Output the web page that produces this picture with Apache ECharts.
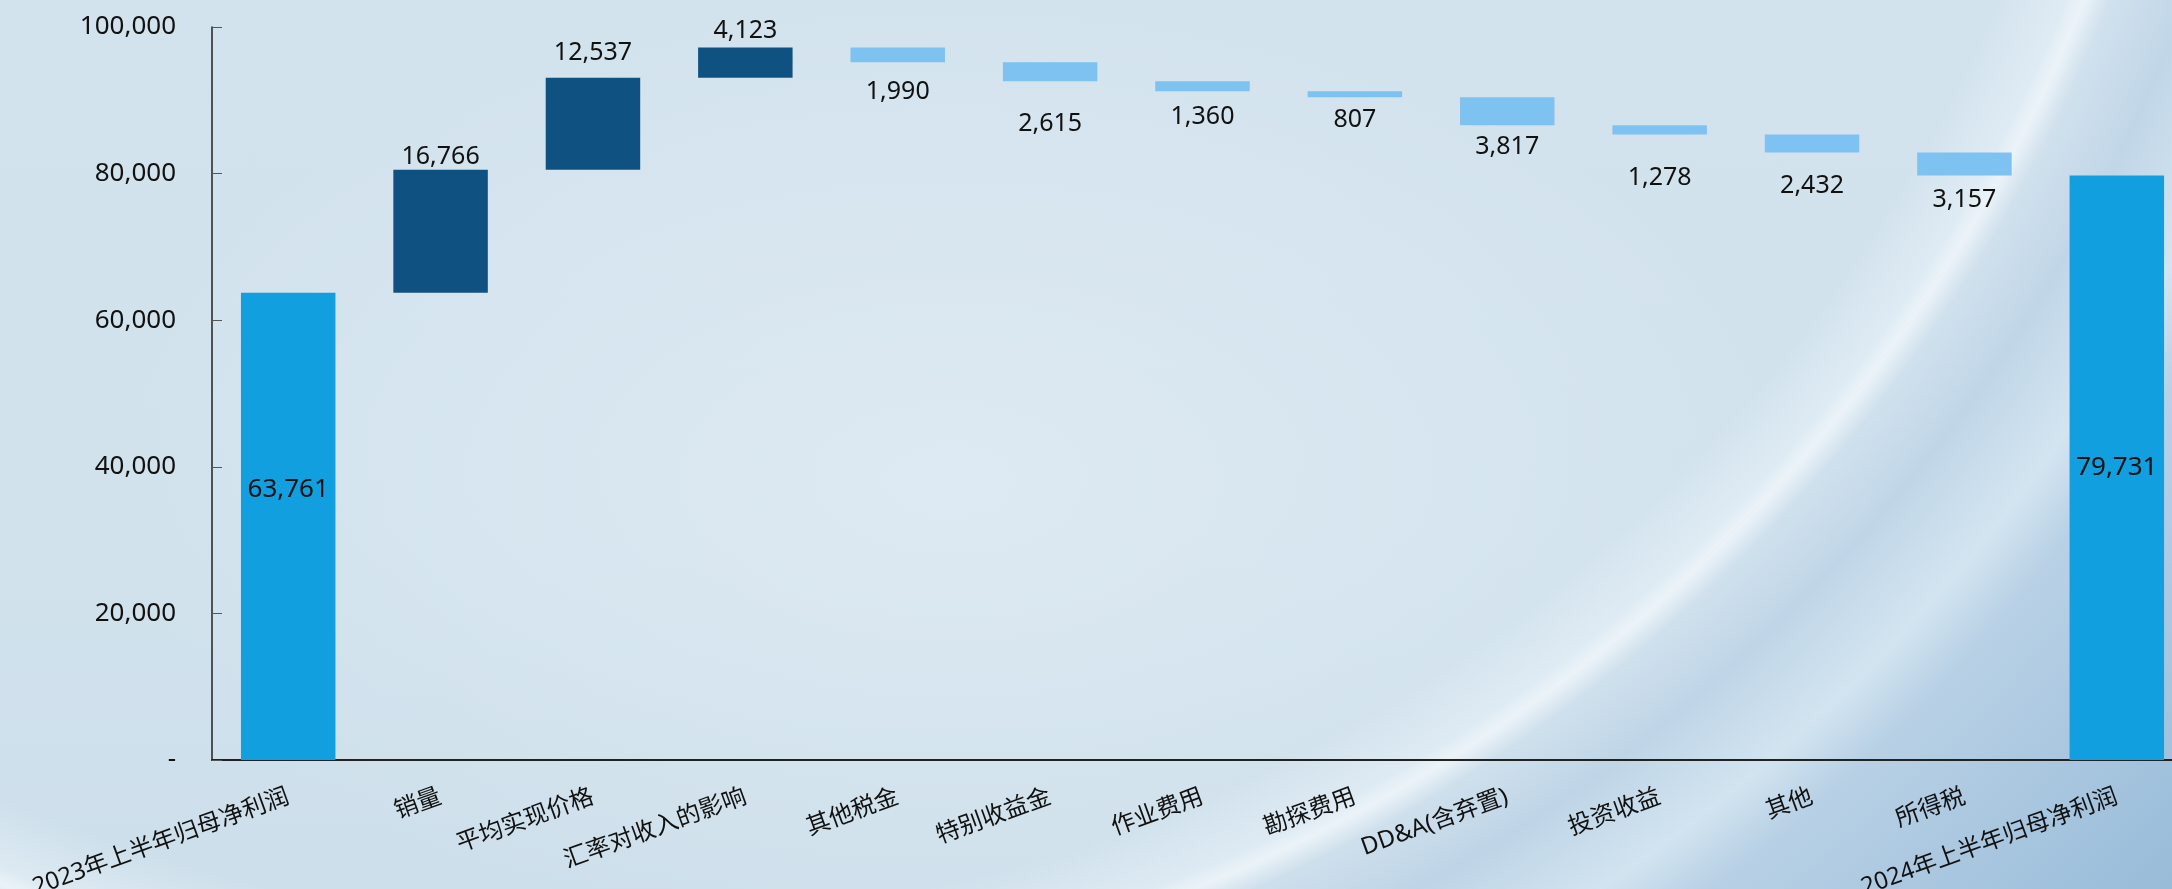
<!DOCTYPE html>
<html>
<head>
<meta charset="utf-8">
<script src="https://cdn.jsdelivr.net/npm/echarts@6/dist/echarts.min.js"></script>
<style>
html,body{margin:0;padding:0;width:2172px;height:889px;overflow:hidden;}
#bg{position:absolute;left:0;top:0;width:2172px;height:889px;
background:
 radial-gradient(circle 1595px at 603px -593px,
   rgba(255,255,255,0) 95%,
   rgba(236,244,250,0.5) 99%,
   rgba(244,249,252,0.75) 100%,
   rgba(205,222,237,0.35) 101.5%,
   rgba(178,204,227,0.55) 106%,
   rgba(212,230,242,0.6) 112%,
   rgba(176,203,227,0.75) 116%,
   rgba(150,186,216,0.95) 135%),
 radial-gradient(ellipse 850px 480px at 950px 480px, rgba(230,239,246,0.6), rgba(230,239,246,0) 100%),
 linear-gradient(180deg,#d3e3ee 0%,#d1e2ed 60%,#cddfeb 100%);
}
#main{position:absolute;left:0;top:0;width:2172px;height:889px;}
</style>
</head>
<body>
<div id="bg"></div>
<div id="main"></div>
<script>
const categories = ['2023年上半年归母净利润','销量','平均实现价格','汇率对收入的影响','其他税金','特别收益金','作业费用','勘探费用','DD&A(含弃置)','投资收益','其他','所得税','2024年上半年归母净利润'];
const startTotal = 63761;
const changes = [16766, 12537, 4123, -1990, -2615, -1360, -807, -3817, -1278, -2432, -3157];
const endTotal = 79731;
const yTicks = [0, 20000, 40000, 60000, 80000, 100000];

// label placement tweaks (style only), one per category
const labelShiftY = [-37, 4, -8, 0, 8, 21, 4, 1, 0, 22, 12, 3, 0];

// build waterfall series from the data
const baseArr = [0];
const totalArr = [startTotal];
const upArr = ['-'];
const downArr = ['-'];
let run = startTotal;
changes.forEach(c => {
  if (c >= 0) {
    baseArr.push(run); upArr.push(c); downArr.push('-'); totalArr.push('-');
    run += c;
  } else {
    run += c;
    baseArr.push(run); downArr.push(-c); upArr.push('-'); totalArr.push('-');
  }
});
baseArr.push(0); totalArr.push(endTotal); upArr.push('-'); downArr.push('-');

const withShift = arr => arr.map((v, i) => v === '-' ? v : {value: v, label: {offset: [0, labelShiftY[i]]}});

const fmt = v => Number(v).toLocaleString('en-US');
const FONT = '"Noto Sans","Noto Sans CJK SC",sans-serif';

const chart = echarts.init(document.getElementById('main'), null, {renderer:'canvas'});
chart.setOption({
  backgroundColor: 'transparent',
  animation: false,
  grid: {left: 212, top: 27, width: 1981, bottom: 129, containLabel: false, outerBoundsMode: 'none'},
  xAxis: {
    type: 'category',
    data: categories,
    axisLine: {lineStyle: {color: '#222', width: 2}},
    axisTick: {inside: true, length: 9, lineStyle: {color: '#444', width: 1}},
    axisLabel: {
      interval: 0, rotate: 20, margin: 36,
      fontSize: 24, color: '#111', fontFamily: FONT
    }
  },
  yAxis: {
    type: 'value',
    min: yTicks[0], max: yTicks[yTicks.length-1], interval: yTicks[1]-yTicks[0],
    splitLine: {show: false},
    axisLine: {show: true, lineStyle: {color: '#222', width: 1.5}},
    axisTick: {show: true, inside: true, length: 10, lineStyle: {color: '#555'}},
    axisLabel: {
      margin: 36, fontSize: 26, color: '#111', fontFamily: FONT,
      formatter: v => v === 0 ? '-' : fmt(v)
    }
  },
  series: [
    {
      type: 'bar', stack: 'w', data: baseArr, barWidth: '62%',
      itemStyle: {color: 'transparent'}, silent: true
    },
    {
      type: 'bar', stack: 'w', data: withShift(totalArr),
      itemStyle: {color: '#129fdf'},
      label: {
        show: true, position: 'inside', fontSize: 26, color: '#111', fontFamily: FONT,
        formatter: p => fmt(p.value)
      }
    },
    {
      type: 'bar', stack: 'w', data: withShift(upArr),
      itemStyle: {color: '#0f5282'},
      label: {
        show: true, position: 'top', distance: 4, fontSize: 25, color: '#111', fontFamily: FONT,
        formatter: p => fmt(p.value)
      }
    },
    {
      type: 'bar', stack: 'w', data: withShift(downArr),
      itemStyle: {color: '#7ec2f1'},
      label: {
        show: true, position: 'bottom', distance: 9, fontSize: 25, color: '#111', fontFamily: FONT,
        formatter: p => fmt(p.value)
      }
    }
  ]
});
</script>
</body>
</html>
